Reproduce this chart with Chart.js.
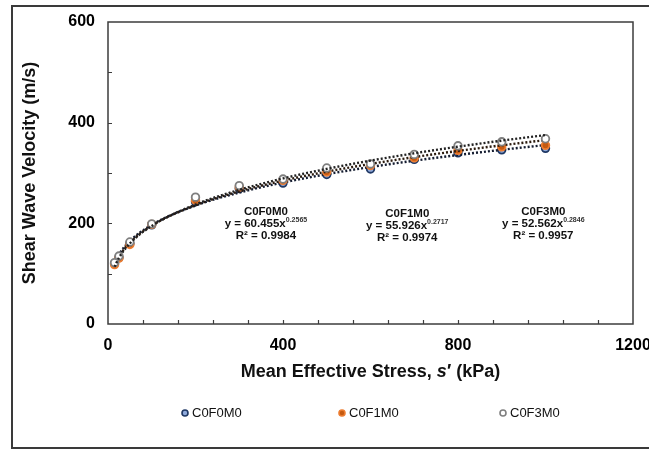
<!DOCTYPE html>
<html><head><meta charset="utf-8">
<script src="https://cdn.jsdelivr.net/npm/chart.js@4.4.1/dist/chart.umd.min.js"></script>
<style>html,body{margin:0;padding:0;background:#fff;}#wrap{width:649px;height:450px;position:relative;}</style>
</head><body><div id="wrap"><canvas id="c" width="649" height="450"></canvas></div>
<script>
// ---- data ----
const stress = [15, 25, 50, 100, 200, 300, 400, 500, 600, 700, 800, 900, 1000];
const vsC0F0M0 = [120, 132, 160, 197, 243, 269, 280, 297, 308, 327, 340, 346, 349];
const vsC0F1M0 = [118, 131, 158, 198, 246, 272, 285, 302, 315, 330, 345, 352, 355];
const vsC0F3M0 = [122, 135, 163, 199, 252, 275, 288, 310, 318, 337, 354, 362, 368];
const seriesNames = ['C0F0M0', 'C0F1M0', 'C0F3M0'];
const fitCoef = [60.455, 55.926, 52.562];
const fitExp = [0.2565, 0.2717, 0.2846];
const fitExpText = ['0.2565', '0.2717', '0.2846'];
const r2Text = ['0.9984', '0.9974', '0.9957'];
const xTickLabels = [0, 400, 800, 1200];
const yTickLabels = [0, 200, 400, 600];

const series = [vsC0F0M0, vsC0F1M0, vsC0F3M0];
const ptBorder = ['#1F3864', '#ED7D31', '#7F7F7F'];
const ptFill = ['#8FAADC', '#C55A11', '#FFFFFF'];
const trendColor = ['#141c30', '#2a1a0e', '#222222'];

const datasets = [];
series.forEach((vals, i) => {
  datasets.push({
    label: seriesNames[i],
    data: stress.map((s, k) => ({x: s, y: vals[k]})),
    showLine: false,
    pointRadius: 3.8,
    pointBorderWidth: 1.8,
    pointBorderColor: ptBorder[i],
    pointBackgroundColor: ptFill[i],
    order: 3 - i
  });
});
series.forEach((vals, i) => {
  datasets.push({
    label: 'trend ' + seriesNames[i],
    data: stress.map(s => ({x: s, y: fitCoef[i] * Math.pow(s, fitExp[i])})),
    showLine: true,
    pointRadius: 0,
    borderColor: trendColor[i],
    borderWidth: 2.4,
    borderDash: [2, 2],
    cubicInterpolationMode: 'monotone',
    fill: false,
    order: 2 - i
  });
});

const F = '"Liberation Sans", Arial, sans-serif';

const deco = {
  id: 'deco',
  afterDraw(chart) {
    const {ctx, chartArea: a, scales: {x, y}} = chart;
    ctx.save();
    // outer frame
    ctx.strokeStyle = '#3a3a3a'; ctx.lineWidth = 2;
    ctx.strokeRect(12, 6, 680, 442);
    // plot frame
    ctx.strokeStyle = '#3c3c3c'; ctx.lineWidth = 1.5;
    ctx.strokeRect(a.left, a.top, a.right - a.left, a.bottom - a.top);
    // minor ticks (inside)
    ctx.lineWidth = 1.2;
    ctx.beginPath();
    for (let v = 80; v < 1200; v += 80) {
      const px = Math.round(x.getPixelForValue(v)) + 0.5;
      ctx.moveTo(px, a.bottom); ctx.lineTo(px, a.bottom - 4);
    }
    for (let v = 100; v < 600; v += 100) {
      const py = Math.round(y.getPixelForValue(v)) + 0.5;
      ctx.moveTo(a.left, py); ctx.lineTo(a.left + 4, py);
    }
    ctx.stroke();
    // y axis title
    ctx.fillStyle = '#111';
    ctx.font = 'bold 18px ' + F;
    ctx.textAlign = 'center'; ctx.textBaseline = 'middle';
    ctx.save();
    ctx.translate(30, (a.top + a.bottom) / 2);
    ctx.rotate(-Math.PI / 2);
    ctx.fillText('Shear Wave Velocity (m/s)', 0, 0);
    ctx.restore();
    // x axis title with italic s
    const p1 = 'Mean Effective Stress, ', p2 = 's', p3 = '\u2032 (kPa)';
    const fN = 'bold 18px ' + F, fI = 'italic bold 18px ' + F;
    ctx.font = fN; const w1 = ctx.measureText(p1).width, w3 = ctx.measureText(p3).width;
    ctx.font = fI; const w2 = ctx.measureText(p2).width;
    let sx = (a.left + a.right) / 2 - (w1 + w2 + w3) / 2;
    const ty = 372;
    ctx.textAlign = 'left';
    ctx.font = fN; ctx.fillText(p1, sx, ty); sx += w1;
    ctx.font = fI; ctx.fillText(p2, sx, ty); sx += w2;
    ctx.font = fN; ctx.fillText(p3, sx, ty);
    // trendline annotations
    const ann = [{x: 361, y: 223}, {x: 684, y: 219}, {x: 995, y: 223}];
    ann.forEach((p, i) => {
      const cx = x.getPixelForValue(p.x), cy = y.getPixelForValue(p.y);
      ctx.textAlign = 'center'; ctx.textBaseline = 'middle';
      ctx.font = 'bold 11.5px ' + F;
      ctx.fillText(seriesNames[i], cx, cy);
      const main = 'y = ' + fitCoef[i].toFixed(3) + 'x';
      const wm = ctx.measureText(main).width;
      ctx.font = 'bold 7px ' + F;
      const ws = ctx.measureText(fitExpText[i]).width;
      let lx = cx - (wm + ws) / 2;
      ctx.textAlign = 'left';
      ctx.font = 'bold 11.5px ' + F;
      ctx.fillText(main, lx, cy + 12);
      ctx.font = 'bold 7px ' + F;
      ctx.fillStyle = '#333';
      ctx.fillText(fitExpText[i], lx + wm, cy + 8);
      ctx.fillStyle = '#111';
      ctx.textAlign = 'center';
      ctx.font = 'bold 11.5px ' + F;
      ctx.fillText('R\u00B2 = ' + r2Text[i], cx, cy + 24);
    });
    // legend
    const lgX = [185, 342, 503], lgY = 413;
    ctx.font = '13px ' + F; ctx.textAlign = 'left'; ctx.textBaseline = 'middle';
    seriesNames.forEach((n, i) => {
      ctx.beginPath();
      ctx.arc(lgX[i], lgY, 3, 0, Math.PI * 2);
      ctx.fillStyle = ptFill[i]; ctx.fill();
      ctx.lineWidth = 1.6; ctx.strokeStyle = ptBorder[i]; ctx.stroke();
      ctx.fillStyle = '#111';
      ctx.fillText(n, lgX[i] + 7, lgY + 0.5);
    });
    ctx.restore();
  }
};

new Chart(document.getElementById('c'), {
  type: 'scatter',
  data: {datasets},
  options: {
    responsive: false,
    animation: false,
    devicePixelRatio: 1,
    layout: {padding: {left: 0, top: 22, right: 16, bottom: 0}},
    plugins: {legend: {display: false}, tooltip: {enabled: false}},
    scales: {
      x: {
        type: 'linear', min: 0, max: 1200,
        afterBuildTicks: s => { s.ticks = xTickLabels.map(v => ({value: v})); },
        afterFit: s => { s.height = 126; s.paddingLeft = 0; s.paddingRight = 0; },
        grid: {display: false, drawTicks: false},
        border: {display: false},
        ticks: {padding: 12, color: '#000', callback: v => String(v), font: {family: F, size: 16, weight: 'bold'}}
      },
      y: {
        type: 'linear', min: 0, max: 600,
        afterBuildTicks: s => { s.ticks = yTickLabels.map(v => ({value: v})); },
        afterFit: s => { s.width = 108; s.paddingTop = 0; s.paddingBottom = 0; },
        grid: {display: false, drawTicks: false},
        border: {display: false},
        ticks: {padding: 13, color: '#000', callback: v => String(v), font: {family: F, size: 16, weight: 'bold'}}
      }
    }
  },
  plugins: [deco]
});
</script>
</body></html>
